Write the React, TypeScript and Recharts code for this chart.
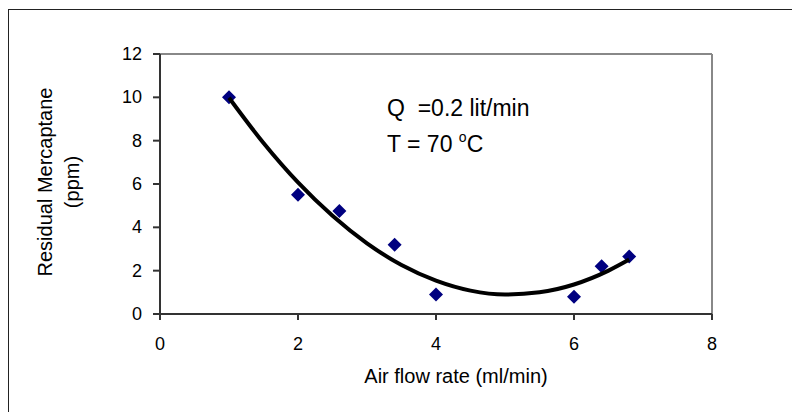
import React from "react";
import {
  ReferenceLine,
  Scatter,
  ScatterChart,
  XAxis,
  YAxis,
} from "recharts";

// measured points
const airFlow = [1, 2, 2.6, 3.4, 4, 6, 6.4, 6.8];
const mercaptane = [10, 5.5, 4.75, 3.2, 0.9, 0.8, 2.2, 2.65];

// trendline
const trendX = [1, 1.5, 2, 2.5, 3, 3.5, 4, 4.5, 5, 5.5, 6, 6.5, 6.8];
const trendY = [9.98, 7.89, 6.07, 4.53, 3.26, 2.26, 1.54, 1.08, 0.9, 1.0, 1.36, 2.0, 2.51];

const xTicks = [0, 2, 4, 6, 8];
const yTicks = [0, 2, 4, 6, 8, 10, 12];

const points = airFlow.map((x, i) => ({ x, y: mercaptane[i] }));
const trend = trendX.map((x, i) => ({ x, y: trendY[i] }));

const FONT = "'Liberation Sans', Arial, sans-serif";
const AXIS = "#333";

function Diamond(props: any) {
  const { cx, cy } = props;
  const r = 7;
  return (
    <polygon
      points={`${cx},${cy - r} ${cx + r},${cy} ${cx},${cy + r} ${cx - r},${cy}`}
      fill="#000080"
    />
  );
}

function XTick({ x, y, payload }: any) {
  return (
    <text x={x} y={y + 14} textAnchor="middle" fontFamily={FONT} fontSize={18} fill="#000">
      {payload.value}
    </text>
  );
}

function YTick({ x, y, payload }: any) {
  return (
    <text x={x} y={y + 6} textAnchor="end" fontFamily={FONT} fontSize={18} fill="#000">
      {payload.value}
    </text>
  );
}

function YTitle({ viewBox }: any) {
  const cy = viewBox.y + viewBox.height / 2 - 2;
  const x1 = viewBox.x + 36;
  const x2 = viewBox.x + 63;
  return (
    <g fontFamily={FONT} fontSize={20} fill="#000">
      <text x={x1} y={cy} textAnchor="middle" dominantBaseline="central" transform={`rotate(-90 ${x1} ${cy})`}>
        Residual Mercaptane
      </text>
      <text x={x2} y={cy} textAnchor="middle" dominantBaseline="central" transform={`rotate(-90 ${x2} ${cy})`}>
        (ppm)
      </text>
    </g>
  );
}

function XTitle({ viewBox }: any) {
  return (
    <text
      x={viewBox.x + viewBox.width / 2 + 20}
      y={viewBox.y + 69}
      textAnchor="middle"
      fontFamily={FONT}
      fontSize={20}
      fill="#000"
    >
      Air flow rate (ml/min)
    </text>
  );
}

export default function App() {
  return (
    <div
      style={{
        position: "relative",
        top: 1,
        width: 792,
        height: 403,
        borderLeft: "1px solid #222",
        borderTop: "1px solid #222",
        background: "#fff",
      }}
    >
      <ScatterChart
        width={791}
        height={402}
        margin={{ top: 44, right: 88, bottom: 23, left: 0 }}
      >
        <XAxis
          type="number"
          dataKey="x"
          domain={[0, 8]}
          ticks={xTicks}
          interval={0}
          height={75}
          stroke={AXIS}
          strokeWidth={2}
          tickSize={6}
          tickMargin={16}
          tick={<XTick />}
          label={<XTitle />}
        />
        <YAxis
          type="number"
          dataKey="y"
          domain={[0, 12]}
          ticks={yTicks}
          interval={0}
          width={151}
          stroke={AXIS}
          strokeWidth={2}
          tickSize={7}
          tickMargin={11}
          tick={<YTick />}
          label={<YTitle />}
        />
        <ReferenceLine y={12} stroke="#888" strokeWidth={2} />
        <ReferenceLine x={8} stroke="#888" strokeWidth={2} />
        <Scatter
          data={points}
          shape={<Diamond />}
          isAnimationActive={false}
        />
        <Scatter
          data={trend}
          line={{ stroke: "#000", strokeWidth: 4 }}
          lineJointType="monotoneX"
          shape={() => <g />}
          isAnimationActive={false}
        />
      </ScatterChart>
      <svg
        width={792}
        height={403}
        style={{ position: "absolute", left: 0, top: 0, pointerEvents: "none" }}
      >
        <g fontFamily={FONT} fontSize={23} fill="#000">
          <text x={378} y={106}>{"Q\u00a0\u00a0=0.2 lit/min"}</text>
          <text x={378} y={142}>
            T = 70{" "}
            <tspan fontSize={14} dy={-10}>o</tspan>
            <tspan dy={10}>C</tspan>
          </text>
        </g>
      </svg>
    </div>
  );
}
